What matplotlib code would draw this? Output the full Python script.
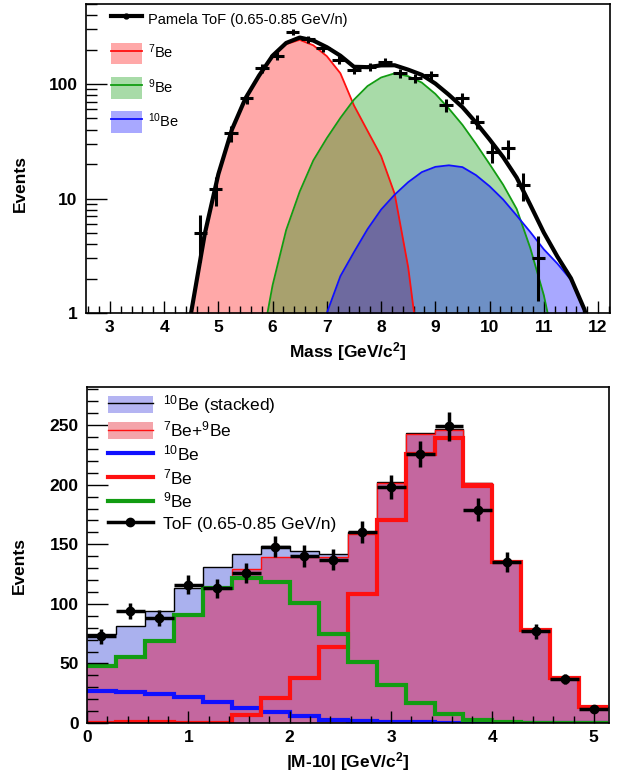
import numpy as np
import matplotlib
matplotlib.use('Agg')
import matplotlib.pyplot as plt
from matplotlib.patches import Patch
from matplotlib.lines import Line2D
from matplotlib.ticker import MultipleLocator, FixedLocator, NullFormatter, LogLocator

plt.rcParams['font.family'] = ['Liberation Sans', 'DejaVu Sans']
plt.rcParams['mathtext.default'] = 'regular'

# ---- top panel: ToF mass distribution with fitted isotope templates ----
tof_mass = [4.67, 4.95, 5.23, 5.52, 5.80, 6.08, 6.37, 6.65, 6.93, 7.22, 7.50, 7.79,
            8.07, 8.35, 8.63, 8.92, 9.20, 9.49, 9.77, 10.05, 10.34, 10.62, 10.90]
tof_events = [5.0, 12, 37, 75, 137, 177, 286, 245, 205, 162, 133, 142,
              157, 124, 112, 120, 65.6, 75, 47, 25.6, 27.4, 13.1, 3.0]

fit_mass = [4.25, 4.50, 4.75, 5.00, 5.25, 5.50, 5.75, 6.00, 6.25, 6.50, 6.75, 7.00,
            7.25, 7.50, 7.75, 8.00, 8.25, 8.50, 8.75, 9.00, 9.25, 9.50, 9.75, 10.00,
            10.25, 10.50, 10.75, 11.00, 11.25, 11.50, 11.75, 12.00]
fit_be7 = [0.2, 1.0, 4.9, 16.3, 40, 75, 118, 175, 223, 243, 218, 175,
           124, 65, 39, 23.5, 11, 2.5, 0.3, 0.01, 0.01, 0.01, 0.01, 0.01,
           0.01, 0.01, 0.01, 0.01, 0.01, 0.01, 0.01, 0.01]
fit_be9 = [0.01, 0.01, 0.01, 0.01, 0.01, 0.05, 0.4, 1.75, 5.3, 11.5, 21.5, 33.7,
           50.6, 73, 96, 114, 124, 117, 103, 82, 61, 44, 30, 20,
           13.2, 8.1, 3.7, 1.43, 0.4, 0.05, 0.01, 0.01]
fit_be10 = [0.01, 0.01, 0.01, 0.01, 0.01, 0.01, 0.01, 0.01, 0.01, 0.1, 0.4, 1.0,
            2.1, 3.4, 5.4, 8.0, 10.8, 13.9, 17.0, 18.9, 19.5, 18.8, 16.0, 12.8,
            9.8, 7.1, 5.1, 3.6, 2.7, 1.95, 1.05, 0.3]

# ---- bottom panel: folded |M-10| histogram ----
bin_width = 2.0 / 7.0
h_be7 = [0.3, 0.5, 0.6, 0.4, 0.4, 7, 21, 38, 64, 108, 170, 226, 239, 199, 135, 78.2, 37.4, 13.1]
h_be9 = [47.5, 55.3, 68.7, 90.8, 113, 122, 118.7, 101, 75, 51, 31.6, 16.8, 7.3, 2.2, 0.6, 0.2, 0.1, 0.05]
h_be10 = [26.8, 26, 24.6, 21.8, 17.6, 12.6, 9.2, 5.6, 2.8, 1.4, 0.8, 0.5, 0.3, 0.2, 0.1, 0.1, 0.05, 0.05]
h_data = [73, 94, 88, 116, 113, 126, 148, 140, 137, 160, 198, 226, 249, 179, 135, 77, 37, 12]
h_err = [6.3, 7, 7, 8, 8, 8.4, 9, 9, 9, 9.3, 10, 11, 12, 9.8, 8.6, 6.5, 4.5, 2.6]

RED = '#ff1010'
GREEN = '#129c12'
BLUE = '#1010ff'

fig = plt.figure(figsize=(6.22, 7.75), dpi=100)

# ================= top =================
ax = fig.add_axes([86 / 622, 1 - 313 / 775, 524 / 622, 309 / 775])
fm = np.array(fit_mass)
b7, b9, b10 = np.array(fit_be7), np.array(fit_be9), np.array(fit_be10)
total = b7 + b9 + b10

ax.fill_between(fm, b7, 1e-3, color=(1, 0, 0), alpha=0.34, lw=0)
ax.fill_between(fm, b9, 1e-3, color=(0, 0.59, 0), alpha=0.34, lw=0)
ax.fill_between(fm, b10, 1e-3, color=(0, 0, 1), alpha=0.34, lw=0)
ax.plot(fm, b7, color=RED, lw=1.3)
ax.plot(fm, b9, color=GREEN, lw=1.3)
ax.plot(fm, b10, color=BLUE, lw=1.3)
ax.errorbar(tof_mass, tof_events, xerr=0.125, yerr=np.sqrt(tof_events),
            fmt='none', ecolor='k', elinewidth=2.2, capsize=0)
ax.plot(fm, total, color='k', lw=3)

ax.set_yscale('log')
ax.set_xlim(2.56, 12.22)
ax.set_ylim(1, 500)
ax.xaxis.set_major_locator(MultipleLocator(1))
ax.xaxis.set_minor_locator(MultipleLocator(0.2))
ax.yaxis.set_major_locator(FixedLocator([1, 10, 100]))
ax.yaxis.set_major_formatter(matplotlib.ticker.FixedFormatter(['1', '10', '100']))
ax.yaxis.set_minor_locator(LogLocator(base=10, subs=np.arange(2, 10)))
ax.yaxis.set_minor_formatter(NullFormatter())
ax.tick_params(axis='x', which='major', direction='in', length=9, width=1, labelsize=12.5, pad=5)
ax.tick_params(axis='x', which='minor', direction='in', length=5, width=1)
ax.tick_params(axis='y', which='major', direction='in', length=15, width=1, labelsize=12.5, pad=6)
ax.tick_params(axis='y', which='minor', direction='in', length=8, width=1)
for lab in ax.get_xticklabels() + ax.get_yticklabels():
    lab.set_fontweight('bold')
for sp in ax.spines.values():
    sp.set_linewidth(1.2)
ax.set_xlabel('Mass [GeV/c$^{2}$]', fontsize=12.5, fontweight='bold')
ax.set_ylabel('Events', fontsize=12.5, fontweight='bold')
ax.yaxis.set_label_coords(-0.11, 0.42)

hl = [Line2D([], [], color='k', lw=3, marker='o', ms=3.5),
      (Patch(facecolor=(1, 0, 0), alpha=0.34, lw=0), Line2D([], [], color=RED, lw=1.3)),
      (Patch(facecolor=(0, 0.59, 0), alpha=0.34, lw=0), Line2D([], [], color=GREEN, lw=1.3)),
      (Patch(facecolor=(0, 0, 1), alpha=0.34, lw=0), Line2D([], [], color=BLUE, lw=1.3))]
ax.legend(hl, ['Pamela ToF (0.65-0.85 GeV/n)', '$^{7}$Be', '$^{9}$Be', '$^{10}$Be'],
          loc='upper left', bbox_to_anchor=(0.048, 0.985), frameon=False,
          fontsize=10.5, handlelength=2.1, handleheight=1.9, labelspacing=0.86,
          handletextpad=0.4, borderpad=0, borderaxespad=0)

# ================= bottom =================
ax = fig.add_axes([87 / 622, 1 - 723 / 775, 522 / 622, 336 / 775])
edges = np.arange(len(h_data) + 1) * bin_width
centers = edges[:-1] + bin_width / 2
hb7, hb9, hb10 = np.array(h_be7), np.array(h_be9), np.array(h_be10)
stacked = hb7 + hb9 + hb10
be79 = hb7 + hb9

ax.stairs(stacked, edges, fill=True, color='#aab1ee', lw=0)
ax.stairs(stacked, edges, color='k', lw=1, baseline=None)
ax.stairs(be79, edges, fill=True, color='#c4679f', lw=0)
ax.stairs(be79, edges, color=RED, lw=1, baseline=None)
ax.stairs(hb10, edges, color=BLUE, lw=3, baseline=None)
ax.stairs(hb7, edges, color=RED, lw=3, baseline=None)
ax.stairs(hb9, edges, color=GREEN, lw=3, baseline=None)
ax.errorbar(centers, h_data, xerr=bin_width / 2, yerr=h_err, fmt='o', color='k',
            ms=6, elinewidth=2.5, capsize=0)

ax.set_xlim(0, 5.15)
ax.set_ylim(0, 282)
ax.xaxis.set_major_locator(MultipleLocator(1))
ax.xaxis.set_minor_locator(MultipleLocator(0.2))
ax.yaxis.set_major_locator(MultipleLocator(50))
ax.yaxis.set_minor_locator(MultipleLocator(10))
ax.tick_params(axis='x', which='major', direction='in', length=9, width=1, labelsize=12.5, pad=5)
ax.tick_params(axis='x', which='minor', direction='in', length=5, width=1)
ax.tick_params(axis='y', which='major', direction='in', length=15, width=1, labelsize=12.5, pad=6)
ax.tick_params(axis='y', which='minor', direction='in', length=8, width=1)
for lab in ax.get_xticklabels() + ax.get_yticklabels():
    lab.set_fontweight('bold')
for sp in ax.spines.values():
    sp.set_linewidth(1.2)
ax.set_xlabel('|M-10| [GeV/c$^{2}$]', fontsize=12.5, fontweight='bold')
ax.set_ylabel('Events', fontsize=12.5, fontweight='bold')
ax.yaxis.set_label_coords(-0.115, 0.47)

hl = [(Patch(facecolor='#b4b4f2', lw=0), Line2D([], [], color='k', lw=1)),
      (Patch(facecolor='#f4a4aa', lw=0), Line2D([], [], color=RED, lw=1)),
      Line2D([], [], color=BLUE, lw=3),
      Line2D([], [], color=RED, lw=3),
      Line2D([], [], color=GREEN, lw=3),
      Line2D([], [], color='k', lw=2.5, marker='o', ms=6)]
ax.legend(hl, ['$^{10}$Be (stacked)', '$^{7}$Be+$^{9}$Be', '$^{10}$Be', '$^{7}$Be',
               '$^{9}$Be', 'ToF (0.65-0.85 GeV/n)'],
          loc='upper left', bbox_to_anchor=(0.040, 0.982), frameon=False,
          fontsize=12.5, handlelength=2.6, handleheight=1.1, labelspacing=0.22,
          handletextpad=0.55, borderpad=0, borderaxespad=0)

fig.savefig('out.png', dpi=100)
